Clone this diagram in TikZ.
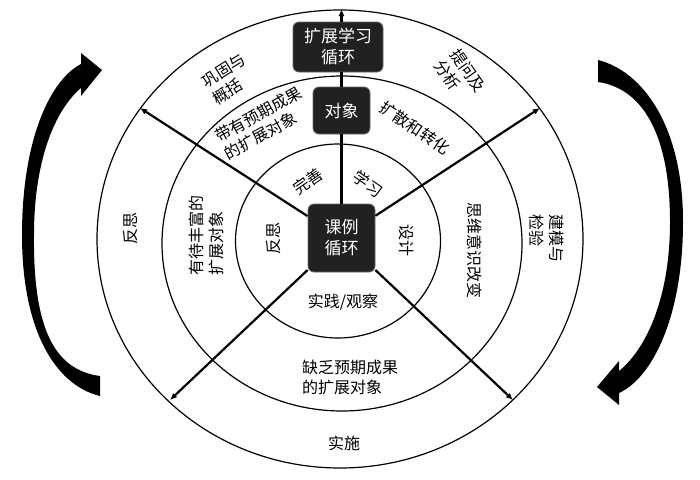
\documentclass[tikz,border=0pt]{standalone}
\usepackage{fontspec}
\setmainfont{Noto Sans CJK SC}
\usetikzlibrary{arrows.meta}
\begin{document}
\begin{tikzpicture}[x=1pt,y=-1pt,
  ring/.style={line width=1.2pt},
  spoke/.style={line width=2.2pt},
  spokearrow/.style={spoke,-{Latex[length=7pt,width=6pt]}},
  darkbox/.style={draw=black!60,fill=black!87,rounded corners=6pt,text=white,align=center,inner sep=0pt,line width=0.8pt,font=\fontsize{17}{21}\selectfont},
  lbl/.style={align=left,inner sep=0pt,font=\fontsize{16}{20}\selectfont},
  crescent/.style={fill=black}
]
\useasboundingbox (0,0) rectangle (700,479);
% rings
\draw[ring] (340,239) ellipse [x radius=243pt, y radius=229pt];
\draw[ring] (342,243.5) ellipse [x radius=180pt, y radius=167.5pt];
\draw[ring] (338,241) ellipse [x radius=102.5pt, y radius=97pt];
% boxes
\node[darkbox,minimum width=67pt,minimum height=68pt] (ke) at (341.5,238) {课例\\循环};
\node[darkbox,minimum width=57pt,minimum height=47pt] (dx) at (341.5,110.5) {对象};
\node[darkbox,minimum width=90pt,minimum height=50pt] (kz) at (338,47) {扩展学习\\循环};
% spoke ends
\coordinate (tp) at (341.5,9);
\coordinate (ul) at (140,108);
\coordinate (ur) at (540,108);
\coordinate (ll) at (170,400);
\coordinate (lr) at (513,400);
% spokes
\draw[spoke] (ke.north) -- (dx.south);
\draw[spoke] (dx.north) -- (dx.north |- kz.south);
\draw[spokearrow] (kz.north -| dx.north) -- (tp);
\draw[spokearrow] (ke) -- (ul);
\draw[spokearrow] (ke) -- (ur);
\draw[spokearrow] (ke) -- (ll);
\draw[spokearrow] (ke) -- (lr);
% labels
\node[lbl,rotate=32] (gg) at (229,79) {巩固与\\概括};
\node[lbl,rotate=-55] (tw) at (460,76) {提问及\\分析};
\node[lbl,rotate=29] (dy) at (263,123) {带有预期成果\\的扩展对象};
\node[lbl,rotate=-34] (ks) at (415,128) {扩散和转化};
\node[lbl,rotate=35] (ws) at (308,181) {完善};
\node[lbl,rotate=-35] (xx) at (368,184) {学习};
\node[lbl,rotate=90] (fsa) at (274,238) {反思};
\node[lbl,rotate=-90] (sj) at (407,240) {设计};
\node[lbl] (sg) at (343,302) {实践/观察};
\node[lbl,rotate=90] (yd) at (206,235) {有待丰富的\\扩展对象};
\node[lbl,rotate=-90] (sw) at (475,250) {思维意识改变};
\node[lbl,rotate=90] (fsb) at (131,228) {反思};
\node[lbl,rotate=-90] (jm) at (547,238) {建模与\\检验};
\node[lbl] (qf) at (350,377) {缺乏预期成果\\的扩展对象};
\node[lbl] (ss) at (344,443) {实施};
% big curved arrows
\fill[crescent] (81,64) .. controls (50,80) and (22,140) .. (22,235)
  .. controls (22,330) and (55,385) .. (100,396) -- (100,376)
  .. controls (55,370) and (33,330) .. (34,235)
  .. controls (34,160) and (55,110) .. (81,88) -- cycle;
\fill[crescent] (81,53) -- (102,70) -- (81,96) -- cycle;
\fill[crescent] (598,60) .. controls (642,71) and (683,125) .. (683,222)
  .. controls (683,317) and (652,378) .. (619,393) -- (619,371)
  .. controls (645,350) and (670,300) .. (670,222)
  .. controls (670,130) and (640,88) .. (598,82) -- cycle;
\fill[crescent] (619,361) -- (597,387) -- (619,405) -- cycle;
\end{tikzpicture}
\end{document}
